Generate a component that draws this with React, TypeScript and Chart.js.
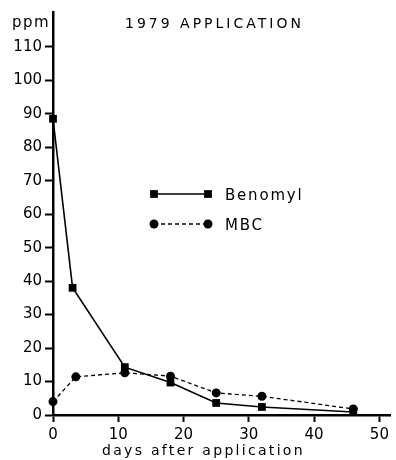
import { useEffect, useRef } from 'react';
import { Chart, registerables } from 'chart.js';

Chart.register(...registerables);

// ---- data ----
const benomylDays = [0, 3, 11, 18, 25, 32, 46];
const benomylPpm = [88.5, 38, 14.3, 9.7, 3.6, 2.4, 0.9];
const mbcDays = [0, 3.5, 11, 18, 25, 32, 46];
const mbcPpm = [4, 11.4, 12.6, 11.6, 6.6, 5.6, 1.8];
const xTickValues = [0, 10, 20, 30, 40, 50];
const yTickValues = [0, 10, 20, 30, 40, 50, 60, 70, 80, 90, 100, 110];
const seriesNames = ['Benomyl', 'MBC'];
const chartTitle = '1979 APPLICATION';
const yUnitLabel = 'ppm';
const xAxisTitle = 'days after application';

const INK = '#000';
const FONT = '"DejaVu Sans", "Liberation Sans", sans-serif';

const textPlugin = {
  id: 'paperText',
  afterDraw(chart: any) {
    const ctx = chart.ctx as CanvasRenderingContext2D;
    ctx.save();
    ctx.fillStyle = INK;
    ctx.textAlign = 'left';
    ctx.textBaseline = 'alphabetic';
    ctx.font = `14px ${FONT}`;
    (ctx as any).letterSpacing = '3px';
    ctx.fillText(chartTitle, 125, 28);
    (ctx as any).letterSpacing = '1.5px';
    ctx.font = `15px ${FONT}`;
    ctx.fillText(yUnitLabel, 12, 27);
    ctx.font = `14px ${FONT}`;
    (ctx as any).letterSpacing = '2.3px';
    ctx.fillText(xAxisTitle, 102, 455);

    // legend
    const rows = [
      { y: 194, ds: chart.data.datasets[0], name: seriesNames[0] },
      { y: 224, ds: chart.data.datasets[1], name: seriesNames[1] },
    ];
    rows.forEach((r) => {
      const x0 = 154;
      const x1 = 208;
      ctx.save();
      ctx.strokeStyle = INK;
      ctx.lineWidth = r.ds.borderWidth;
      ctx.setLineDash(r.ds.borderDash || []);
      ctx.beginPath();
      ctx.moveTo(x0, r.y);
      ctx.lineTo(x1, r.y);
      ctx.stroke();
      ctx.restore();
      [x0, x1].forEach((px) => {
        ctx.beginPath();
        if (r.ds.pointStyle === 'rect') {
          const s = r.ds.pointRadius * Math.SQRT1_2;
          ctx.rect(px - s, r.y - s, 2 * s, 2 * s);
        } else {
          ctx.arc(px, r.y, r.ds.pointRadius, 0, Math.PI * 2);
        }
        ctx.fill();
      });
      (ctx as any).letterSpacing = '1.8px';
      ctx.font = `15px ${FONT}`;
      ctx.fillText(r.name, 225, r.y + 6);
    });
    ctx.restore();
  },
};

export default function App() {
  const ref = useRef<HTMLCanvasElement | null>(null);

  useEffect(() => {
    if (!ref.current) return;
    const chart = new Chart(ref.current, {
      type: 'line',
      data: {
        datasets: [
          {
            label: seriesNames[0],
            data: benomylDays.map((d, i) => ({ x: d, y: benomylPpm[i] })),
            borderColor: INK,
            backgroundColor: INK,
            borderWidth: 1.6,
            pointStyle: 'rect',
            pointRadius: 5.5,
            pointBackgroundColor: INK,
            pointBorderWidth: 0,
            tension: 0,
            clip: false as any,
          } as any,
          {
            label: seriesNames[1],
            data: mbcDays.map((d, i) => ({ x: d, y: mbcPpm[i] })),
            borderColor: INK,
            backgroundColor: INK,
            borderWidth: 1.3,
            borderDash: [4, 3],
            pointStyle: 'circle',
            pointRadius: 4.5,
            pointBackgroundColor: INK,
            pointBorderWidth: 0,
            tension: 0,
            clip: false as any,
          } as any,
        ],
      },
      options: {
        animation: false,
        responsive: false,
        devicePixelRatio: 1,
        layout: { padding: { top: 10, right: 3, left: 0, bottom: 0 } },
        plugins: {
          legend: { display: false },
          tooltip: { enabled: false },
          title: { display: false },
        },
        scales: {
          x: {
            type: 'linear',
            min: 0,
            max: 51.7,
            afterBuildTicks: (s: any) => {
              s.ticks = xTickValues.map((v) => ({ value: v }));
            },
            afterFit: (s: any) => {
              s.height = 45;
            },
            grid: {
              display: true,
              drawOnChartArea: false,
              drawTicks: true,
              tickLength: 7,
              tickWidth: 2,
              color: INK,
            },
            border: { display: true, width: 2.5, color: INK },
            ticks: {
              color: INK,
              padding: 4,
              maxRotation: 0,
              font: { family: FONT, size: 15 },
            },
          },
          y: {
            type: 'linear',
            min: 0,
            max: 120.4,
            afterBuildTicks: (s: any) => {
              s.ticks = yTickValues.map((v) => ({ value: v }));
            },
            afterFit: (s: any) => {
              s.width = 53;
            },
            grid: {
              display: true,
              drawOnChartArea: false,
              drawTicks: true,
              tickLength: 8,
              tickWidth: 2,
              color: INK,
            },
            border: { display: true, width: 2.5, color: INK },
            ticks: {
              color: INK,
              padding: 3,
              font: { family: FONT, size: 15 },
            },
          },
        },
      } as any,
      plugins: [textPlugin],
    });
    return () => chart.destroy();
  }, []);

  return (
    <div style={{ position: 'absolute', left: 0, top: 0, width: 396, height: 460, background: '#fff' }}>
      <canvas ref={ref} width={396} height={460} style={{ display: 'block' }} />
    </div>
  );
}
